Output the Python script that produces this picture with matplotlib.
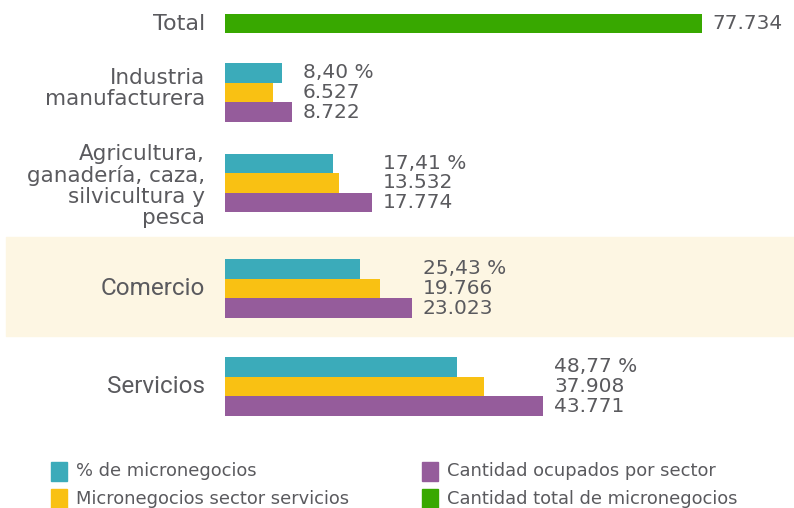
import matplotlib
matplotlib.use("Agg")
import matplotlib.pyplot as plt
from matplotlib.patches import Rectangle

# sectors and values (labels as printed on the chart)
sectors = ["Industria\nmanufacturera",
           "Agricultura,\nganadería, caza,\nsilvicultura y\npesca",
           "Comercio", "Servicios"]
pct_micro = [8.40, 17.41, 25.43, 48.77]
micro_serv = [6527, 13532, 19766, 37908]
ocupados = [8722, 17774, 23023, 43771]
total_micro = 77734

# bar lengths as drawn in the picture (same axis as the total bar, thousands)
len_pct = [9.29, 17.60, 22.00, 37.81]
len_serv = [7.82, 18.58, 25.26, 42.21]
len_ocup = [10.92, 23.96, 30.47, 51.82]
len_total = 77.734

series_names = ["% de micronegocios", "Micronegocios sector servicios",
                "Cantidad ocupados por sector", "Cantidad total de micronegocios"]
colors = ["#3BABBA", "#F9C113", "#955C9B", "#38A800"]
text_col = "#5a5a5e"

W, H = 794, 508
fig = plt.figure(figsize=(W / 100, H / 100), dpi=100)
ax = fig.add_axes([0, 0, 1, 1])

# x axis: bar origin at 225 px, total bar ends at 702 px; y axis in pixels
s = len_total / 477.0
ax.set_xlim(-225 * s, (W - 225) * s)
ax.set_ylim(H, 0)
ax.axis("off")


def fmt_int(v):
    return f"{v:,}".replace(",", ".")


def fmt_pct(v):
    return f"{v:.2f}".replace(".", ",") + " %"


# highlighted band behind Comercio
ax.add_patch(Rectangle((-219 * s, 237), (W - 6) * s, 99, color="#FDF6E3", zorder=0))

# total bar
ax.barh(23.5, len_total, height=19.5, color=colors[3], zorder=2)
ax.text(len_total + 10 * s, 23.5, fmt_int(total_micro), va="center", ha="left",
        fontsize=14.5, color=text_col, family="DejaVu Sans")
ax.text(-20 * s, 23.5, "Total", va="center", ha="right", fontsize=16,
        color=text_col, family="DejaVu Sans")

centers = [92.5, 183, 288.5, 386.5]
bh = 19.5
label_font = ["DejaVu Sans", "DejaVu Sans", "Roboto", "Roboto"]
label_size = [15.5, 15.5, 17.5, 17.5]
label_shift = [-4, 3, 0, 0]
for i, c in enumerate(centers):
    ax.barh(c - bh, len_pct[i], height=bh, color=colors[0], zorder=2)
    ax.barh(c, len_serv[i], height=bh, color=colors[1], zorder=2)
    ax.barh(c + bh, len_ocup[i], height=bh, color=colors[2], zorder=2)
    xl = max(len_pct[i], len_serv[i], len_ocup[i]) + 11 * s
    for dy, txt in zip([-bh, 0, bh],
                       [fmt_pct(pct_micro[i]), fmt_int(micro_serv[i]), fmt_int(ocupados[i])]):
        ax.text(xl, c + dy, txt, va="center", ha="left", fontsize=14.5,
                color=text_col, family="DejaVu Sans")
    ax.text(-20 * s, c + label_shift[i], sectors[i], va="center", ha="right",
            fontsize=label_size[i], color=text_col, family=label_font[i],
            linespacing=1.08)

# legend drawn by hand in pixel positions
def fx(x):
    return x / W


def fy(y):
    return 1 - y / H


leg_pos = [(51, 471.5), (51, 498.5), (422, 471.5), (422, 498.5)]
for (lx, ly), name, col in zip(leg_pos, series_names, colors):
    fig.patches.append(Rectangle((fx(lx), fy(ly + 9.5)), 16 / W, 19 / H,
                                 color=col, transform=fig.transFigure, figure=fig))
    fig.text(fx(lx + 25), fy(ly), name, va="center", ha="left", fontsize=12.9,
             color=text_col, family="DejaVu Sans")

fig.savefig("out.png", dpi=100)
